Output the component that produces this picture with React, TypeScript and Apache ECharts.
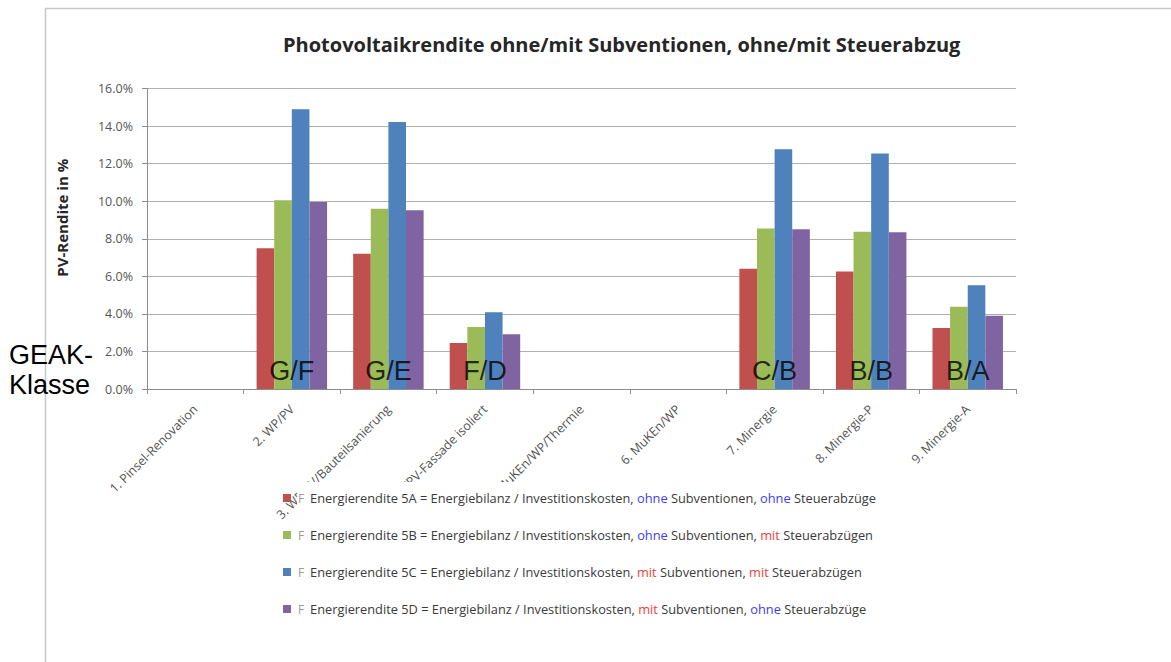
import React, { useEffect, useRef } from "react";
import * as echarts from "echarts";

// Building variants on the category axis
const categories = [
  "1. Pinsel-Renovation",
  "2. WP/PV",
  "3. WP/PV/Bauteilsanierung",
  "4. WP/PV-Fassade isoliert",
  "5. MuKEn/WP/Thermie",
  "6. MuKEn/WP",
  "7. Minergie",
  "8. Minergie-P",
  "9. Minergie-A",
];

// GEAK class (before / after) shown on each group
const geakKlassen = ["", "G/F", "G/E", "F/D", "", "", "C/B", "B/B", "B/A"];

// PV return in percent per variant
const rendite5A = [null, 7.5, 7.2, 2.45, null, null, 6.4, 6.25, 3.25];
const rendite5B = [null, 10.05, 9.6, 3.3, null, null, 8.55, 8.37, 4.38];
const rendite5C = [null, 14.9, 14.22, 4.08, null, null, 12.77, 12.54, 5.53];
const rendite5D = [null, 9.96, 9.52, 2.91, null, null, 8.5, 8.34, 3.9];

const seriesNames = [
  "Energierendite 5A = Energiebilanz / Investitionskosten, ohne Subventionen, ohne Steuerabzüge",
  "Energierendite 5B = Energiebilanz / Investitionskosten, ohne Subventionen, mit Steuerabzügen",
  "Energierendite 5C = Energiebilanz / Investitionskosten, mit Subventionen, mit Steuerabzügen",
  "Energierendite 5D = Energiebilanz / Investitionskosten, mit Subventionen, ohne Steuerabzüge",
];
const seriesColors = ["#C0504D", "#9BBB59", "#4F81BD", "#8064A2"];
const seriesValues = [rendite5A, rendite5B, rendite5C, rendite5D];

const yTicks = { min: 0, max: 16, interval: 2 };

const SANS = "'Open Sans', 'Noto Sans', sans-serif";
const ARIAL = "'Liberation Sans', Arial, sans-serif";

function buildOption() {
  const bars = seriesNames.map((name, i) => ({
    name,
    type: "bar",
    data: seriesValues[i],
    itemStyle: { color: seriesColors[i] },
    barGap: "0%",
    barCategoryGap: "27%",
    z: 2,
  }));

  const geakLabels = {
    name: "GEAK",
    type: "scatter",
    data: geakKlassen.map((k) => (k ? 0 : null)),
    symbolSize: 1,
    itemStyle: { color: "rgba(0,0,0,0)" },
    silent: true,
    z: 5,
    label: {
      show: true,
      position: "top",
      distance: 4,
      formatter: (p: any) => geakKlassen[p.dataIndex],
      fontFamily: ARIAL,
      fontSize: 27,
      color: "#000",
    },
  };

  const richLegend = (name: string) =>
    "{f|F}" +
    name.replace(/\b(ohne|mit)\b/g, (w) => (w === "ohne" ? "{o|ohne}" : "{m|mit}"));

  const LF = 12.8;

  return {
    animation: false,
    backgroundColor: "#ffffff",
    title: {
      text: "Photovoltaikrendite ohne/mit Subventionen, ohne/mit Steuerabzug",
      left: 283,
      top: 34,
      padding: 0,
      textStyle: {
        fontFamily: SANS,
        fontSize: 20,
        fontWeight: "bold",
        color: "#262626",
      },
    },
    grid: { left: 147, right: 155, top: 88.5, bottom: 273, containLabel: false },
    xAxis: {
      type: "category",
      data: categories,
      axisLine: { lineStyle: { color: "#8c8c8c", width: 1 } },
      axisTick: { show: true, length: 5, lineStyle: { color: "#8c8c8c" } },
      axisLabel: {
        rotate: 45,
        interval: 0,
        margin: 18,
        fontFamily: SANS,
        fontSize: 12.5,
        color: "#555555",
      },
    },
    yAxis: {
      type: "value",
      ...yTicks,
      name: "PV-Rendite in %",
      nameLocation: "middle",
      nameRotate: 90,
      nameGap: 78,
      nameTextStyle: {
        fontFamily: SANS,
        fontSize: 15,
        fontWeight: "bold",
        color: "#262626",
        padding: [0, 0, 0, 42],
      },
      axisLine: { show: true, lineStyle: { color: "#8c8c8c", width: 1 } },
      axisTick: { show: true, length: 5, lineStyle: { color: "#8c8c8c" } },
      splitLine: { lineStyle: { color: "#b0b0b0", width: 1.2 } },
      axisLabel: {
        margin: 14,
        fontFamily: SANS,
        fontSize: 12.5,
        color: "#555555",
        formatter: (v: number) => v.toFixed(1) + "%",
      },
    },
    legend: {
      data: seriesNames,
      orient: "vertical",
      left: 283,
      top: 490,
      padding: 0,
      itemWidth: 8,
      itemHeight: 8,
      itemGap: 21,
      icon: "rect",
      selectedMode: false,
      z: 6,
      formatter: richLegend,
      textStyle: {
        fontFamily: SANS,
        fontSize: LF,
        lineHeight: 16,
        color: "#3a3a3a",
        rich: {
          f: { fontFamily: SANS, fontSize: LF - 1, color: "#9a9a9a", padding: [0, 6, 0, 2] },
          o: { fontFamily: SANS, fontSize: LF, color: "#3c3cf0" },
          m: { fontFamily: SANS, fontSize: LF, color: "#f03c3c" },
        },
      },
    },
    graphic: [
      // sheet frame
      { type: "line", z: 1, shape: { x1: 45, y1: 8.5, x2: 1171, y2: 8.5 }, style: { stroke: "#c8c8c8", lineWidth: 1.5 } },
      { type: "line", z: 1, shape: { x1: 45.5, y1: 8, x2: 45.5, y2: 662 }, style: { stroke: "#c8c8c8", lineWidth: 1.5 } },
      // white panel behind the legend text
      { type: "rect", z: 5, shape: { x: 297, y: 482, width: 590, height: 140 }, style: { fill: "#ffffff" } },
      {
        type: "text",
        z: 10,
        x: 9,
        y: 355,
        style: { text: "GEAK-", font: `27px ${ARIAL}`, fill: "#000", verticalAlign: "middle" },
      },
      {
        type: "text",
        z: 10,
        x: 9,
        y: 385,
        style: { text: "Klasse", font: `27px ${ARIAL}`, fill: "#000", verticalAlign: "middle" },
      },
    ],
    series: [...bars, geakLabels],
  };
}

export default function App() {
  const ref = useRef<HTMLDivElement>(null);
  useEffect(() => {
    document.body.style.margin = "0";
    const chart = echarts.init(ref.current!, null, { renderer: "svg" });
    chart.setOption(buildOption() as any);
    return () => chart.dispose();
  }, []);
  return <div ref={ref} style={{ width: 1171, height: 662 }} />;
}
